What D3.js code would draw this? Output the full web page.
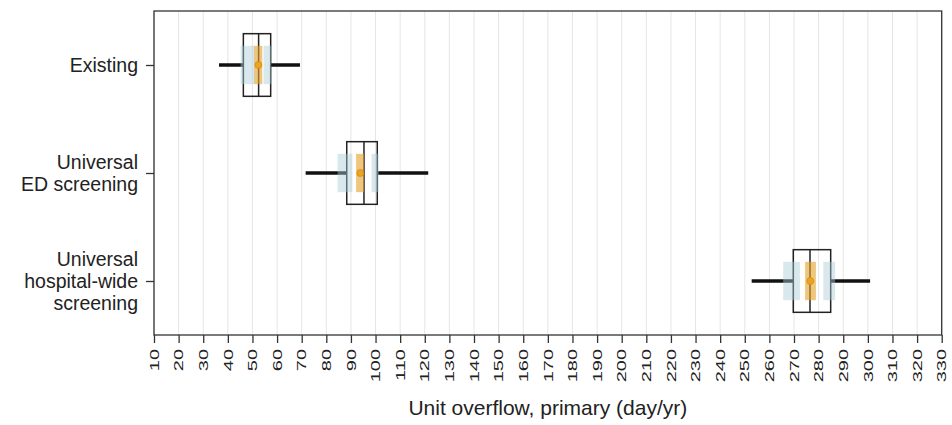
<!DOCTYPE html>
<html>
<head>
<meta charset="utf-8">
<script src="https://cdn.jsdelivr.net/npm/d3@7"></script>
<style>
  html, body { margin: 0; padding: 0; background: #fff; }
  svg { display: block; font-family: "Liberation Sans", Arial, Helvetica, sans-serif; }
</style>
</head>
<body>
<svg id="chart" width="952" height="425"></svg>
<script>
// ---- Data ----
const categories = ["Existing", "Universal ED screening", "Universal hospital-wide screening"];
const categoryLines = [["Existing"], ["Universal", "ED screening"], ["Universal", "hospital-wide", "screening"]];

const whiskerLow  = [36.4, 71.6, 252.8];
const q1          = [46.3, 88.3, 269.7];
const median      = [52.5, 95.3, 276.5];
const q3          = [57.4, 100.7, 284.9];
const whiskerHigh = [69.3, 121.4, 300.9];

const mean        = [52.4, 93.8, 276.6];
const meanCiLow   = [50.7, 92.1, 274.5];
const meanCiHigh  = [54.0, 95.3, 278.9];
const q1CiLow     = [45.2, 84.6, 265.6];
const q1CiHigh    = [51.0, 90.6, 272.4];
const q3CiLow     = [54.5, 98.4, 281.9];
const q3CiHigh    = [57.6, 101.3, 286.7];

const xTicks = d3.range(10, 331, 10);
const xTitle = "Unit overflow, primary (day/yr)";

// ---- Layout ----
const W = 952, H = 425;
const margin = { top: 11, right: 10.3, bottom: 90, left: 154 };
const svg = d3.select("#chart");

const x = d3.scaleLinear().domain([10, 330]).range([margin.left, W - margin.right]);
const y = d3.scalePoint().domain(categories).range([margin.top, H - margin.bottom]).padding(0.5);
const step = y.step();
const boxH = step * 0.58;
const ciH = step * 0.355;

const rows = categories.map((c, i) => ({
  cat: c, wl: whiskerLow[i], q1: q1[i], med: median[i], q3: q3[i], wh: whiskerHigh[i],
  mean: mean[i], mLo: meanCiLow[i], mHi: meanCiHigh[i],
  q1Lo: q1CiLow[i], q1Hi: q1CiHigh[i], q3Lo: q3CiLow[i], q3Hi: q3CiHigh[i]
}));

// ---- Gridlines ----
svg.append("g")
  .selectAll("line")
  .data(xTicks)
  .join("line")
  .attr("x1", d => x(d)).attr("x2", d => x(d))
  .attr("y1", margin.top).attr("y2", H - margin.bottom)
  .attr("stroke", "#e6e6e6")
  .attr("stroke-width", 1);

// ---- Whiskers ----
const g = svg.append("g");
g.selectAll("line.wlo")
  .data(rows)
  .join("line")
  .attr("class", "wlo")
  .attr("x1", d => x(d.wl)).attr("x2", d => x(d.q1))
  .attr("y1", d => y(d.cat)).attr("y2", d => y(d.cat))
  .attr("stroke", "#111").attr("stroke-width", 3.5);
g.selectAll("line.whi")
  .data(rows)
  .join("line")
  .attr("class", "whi")
  .attr("x1", d => x(d.q3)).attr("x2", d => x(d.wh))
  .attr("y1", d => y(d.cat)).attr("y2", d => y(d.cat))
  .attr("stroke", "#111").attr("stroke-width", 3.5);

// ---- Boxes ----
g.selectAll("rect.box")
  .data(rows)
  .join("rect")
  .attr("class", "box")
  .attr("x", d => x(d.q1))
  .attr("width", d => x(d.q3) - x(d.q1))
  .attr("y", d => y(d.cat) - boxH / 2)
  .attr("height", boxH)
  .attr("fill", "none")
  .attr("stroke", "#222")
  .attr("stroke-width", 1.5);
g.selectAll("line.med")
  .data(rows)
  .join("line")
  .attr("class", "med")
  .attr("x1", d => x(d.med)).attr("x2", d => x(d.med))
  .attr("y1", d => y(d.cat) - boxH / 2).attr("y2", d => y(d.cat) + boxH / 2)
  .attr("stroke", "#222").attr("stroke-width", 1.5);

// ---- Confidence bands (drawn over lines, translucent) ----
const bands = [];
rows.forEach(d => {
  bands.push({ cat: d.cat, lo: d.q1Lo, hi: d.q1Hi, kind: "q" });
  bands.push({ cat: d.cat, lo: d.q3Lo, hi: d.q3Hi, kind: "q" });
  bands.push({ cat: d.cat, lo: d.mLo, hi: d.mHi, kind: "m" });
});
g.selectAll("rect.band")
  .data(bands)
  .join("rect")
  .attr("class", "band")
  .attr("x", d => x(d.lo))
  .attr("width", d => x(d.hi) - x(d.lo))
  .attr("y", d => y(d.cat) - ciH / 2)
  .attr("height", ciH)
  .attr("fill", d => d.kind === "q" ? "rgb(170,205,215)" : "rgb(228,160,40)")
  .attr("fill-opacity", d => d.kind === "q" ? 0.45 : 0.6);

g.selectAll("circle.mean")
  .data(rows)
  .join("circle")
  .attr("class", "mean")
  .attr("cx", d => x(d.mean))
  .attr("cy", d => y(d.cat))
  .attr("r", 3.5)
  .attr("fill", "rgb(236,163,30)")
  .attr("stroke", "rgb(205,130,20)")
  .attr("stroke-width", 0.6);

// ---- Frame ----
svg.append("rect")
  .attr("x", margin.left).attr("y", margin.top)
  .attr("width", W - margin.right - margin.left)
  .attr("height", H - margin.bottom - margin.top)
  .attr("fill", "none")
  .attr("stroke", "#333")
  .attr("stroke-width", 1.3);

// ---- X axis ----
const xAxis = svg.append("g")
  .attr("transform", `translate(0,${H - margin.bottom})`)
  .call(d3.axisBottom(x).tickValues(xTicks).tickFormat(d3.format("d")).tickSize(8).tickSizeOuter(0));
xAxis.select(".domain").remove();
xAxis.selectAll("line").attr("stroke", "#333").attr("stroke-width", 1.3);
xAxis.selectAll("text")
  .attr("x", 0).attr("y", 0).attr("dy", null)
  .attr("text-anchor", "end")
  .attr("dominant-baseline", "central")
  .attr("transform", "translate(0,14) rotate(-90) scale(1,0.64)")
  .attr("font-size", 20)
  .attr("fill", "#222");

// ---- Y axis ----
const yAxis = svg.append("g")
  .attr("transform", `translate(${margin.left},0)`)
  .call(d3.axisLeft(y).tickSize(8).tickPadding(8).tickSizeOuter(0));
yAxis.select(".domain").remove();
yAxis.selectAll("line").attr("stroke", "#333").attr("stroke-width", 1.3);
yAxis.selectAll("text")
  .attr("dy", null)
  .attr("font-size", 19.5)
  .attr("fill", "#222")
  .text(null)
  .each(function (d) {
    const lines = categoryLines[categories.indexOf(d)];
    const lh = 22;
    const t = d3.select(this);
    lines.forEach((ln, k) => {
      t.append("tspan")
        .attr("x", -16)
        .attr("y", (k - (lines.length - 1) / 2) * lh + 6)
        .text(ln);
    });
  });

// ---- X title ----
svg.append("text")
  .attr("x", (margin.left + W - margin.right) / 2)
  .attr("y", 415)
  .attr("text-anchor", "middle")
  .attr("font-size", 21)
  .attr("fill", "#222")
  .text(xTitle);
</script>
</body>
</html>
